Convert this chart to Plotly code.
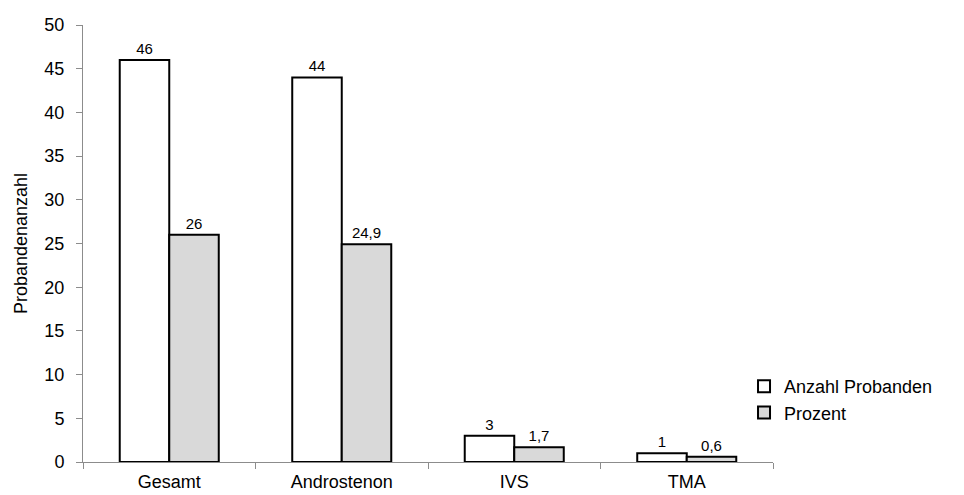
import plotly.graph_objects as go

categories = ["Gesamt", "Androstenon", "IVS", "TMA"]
anzahl = [46, 44, 3, 1]
prozent = [26, 24.9, 1.7, 0.6]
y_ticks = [0, 5, 10, 15, 20, 25, 30, 35, 40, 45, 50]


def de(v):
    return f"{v:g}".replace(".", ",")


font = "Liberation Sans, Arial, sans-serif"

fig = go.Figure()
fig.add_trace(go.Bar(
    x=categories, y=anzahl, name="Anzahl Probanden",
    marker=dict(color="white", line=dict(color="black", width=2)),
    text=[de(v) for v in anzahl], textposition="outside",
    textfont=dict(size=15, color="black"), cliponaxis=False,
))
fig.add_trace(go.Bar(
    x=categories, y=prozent, name="Prozent",
    marker=dict(color="#d9d9d9", line=dict(color="black", width=2)),
    text=[de(v) for v in prozent], textposition="outside",
    textfont=dict(size=15, color="black"), cliponaxis=False,
))

fig.update_layout(
    width=964, height=495,
    margin=dict(l=83, r=191, t=25, b=33),
    paper_bgcolor="white", plot_bgcolor="white",
    font=dict(family=font, size=18, color="black"),
    barmode="group", bargap=0.426, bargroupgap=0,
    separators=",.",
    legend=dict(x=0.958, y=0.143, xanchor="left", yanchor="middle",
                font=dict(size=18), itemwidth=30,
                bgcolor="rgba(0,0,0,0)"),
    uniformtext=dict(minsize=15, mode="show"),
)
fig.update_xaxes(
    showline=True, linecolor="#8c8c8c", linewidth=1,
    ticks="outside", tickson="boundaries", ticklen=6, tickcolor="#8c8c8c",
    showgrid=False, tickfont=dict(size=18), ticklabelstandoff=3,
    automargin=False,
)
fig.update_yaxes(
    range=[0, 50], tickvals=y_ticks, showline=True, linecolor="#8c8c8c",
    linewidth=1, ticks="outside", ticklen=6, tickcolor="#8c8c8c",
    showgrid=False, zeroline=False, tickfont=dict(size=18),
    ticklabelstandoff=8, automargin=False,
    title=dict(text="Probandenanzahl", font=dict(size=18), standoff=12),
)

fig.write_html("out.html")
